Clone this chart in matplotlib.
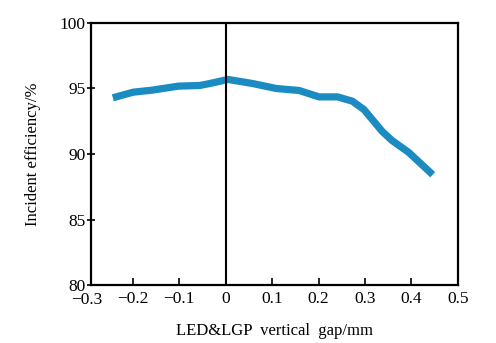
import numpy as np
import matplotlib
matplotlib.use("Agg")
from matplotlib import pyplot as plt

plt.rcParams['font.family'] = ['Liberation Serif', 'DejaVu Serif']

# gap (mm) vs incident efficiency (%)
gap = [-0.243, -0.199, -0.159, -0.102, -0.056, -0.034, 0.005, 0.058, 0.109,
       0.158, 0.201, 0.241, 0.273, 0.298, 0.337, 0.358, 0.394, 0.446]
eff = [94.29, 94.72, 94.87, 95.18, 95.23, 95.38, 95.69, 95.38, 95.00,
       94.85, 94.36, 94.36, 94.03, 93.39, 91.73, 91.04, 90.13, 88.42]
xticks = [-0.2, -0.1, 0, 0.1, 0.2, 0.3, 0.4, 0.5]
xlabels = ['\u22120.2', '\u22120.1', '0', '0.1', '0.2', '0.3', '0.4', '0.5']
yticks = [80, 85, 90, 95, 100]

fig = plt.figure(figsize=(4.96, 3.43), dpi=100)
ax = fig.add_axes([0.1835, 0.169, 0.7395, 0.764])

ax.plot(gap, eff, color='#1a8cc2', lw=5.2, solid_capstyle='butt')
ax.axvline(0, color='black', lw=1.5)

ax.set_xlim(-0.29, 0.5)
ax.set_ylim(80, 100)
ax.set_xticks(xticks)
ax.set_xticklabels(xlabels)
ax.set_yticks(yticks)
# the -0.3 label sits just left of the axis edge
ax.text(-0.3, -0.026, '\u22120.3', transform=ax.get_xaxis_transform(),
        ha='center', va='top', fontsize=12.5, clip_on=False)

for s in ax.spines.values():
    s.set_linewidth(1.6)
ax.tick_params(axis='x', direction='in', length=5, width=1.2, pad=4, labelsize=12.5)
ax.tick_params(axis='y', direction='inout', length=6, width=1.2, pad=1, labelsize=12.5)

ax.set_xlabel('LED&LGP  vertical  gap/mm', fontsize=12, labelpad=12)
ax.set_ylabel('Incident efficiency/%', fontsize=12, labelpad=13)

fig.savefig('out.png', dpi=100)
